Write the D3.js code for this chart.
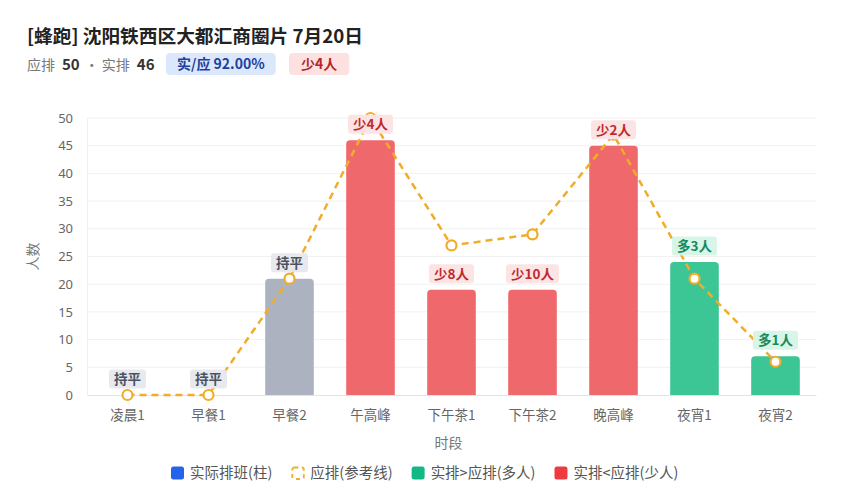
<!DOCTYPE html>
<html>
<head>
<meta charset="utf-8">
<script src="https://cdn.jsdelivr.net/npm/d3@7"></script>
<style>
  body { margin: 0; background: #fff; }
  text { font-family: "Noto Sans CJK SC", "Noto Sans", sans-serif; }
</style>
</head>
<body>
<div id="chart"></div>
<script>
// data
const title = '[蜂跑] 沈阳铁西区大都汇商圈片 7月20日';
const categories = ['凌晨1', '早餐1', '早餐2', '午高峰', '下午茶1', '下午茶2', '晚高峰', '夜宵1', '夜宵2'];
const actual = [0, 0, 21, 46, 19, 19, 45, 24, 7];
const planned = [0, 0, 21, 50, 27, 29, 47, 21, 6];
const yTicks = [0, 5, 10, 15, 20, 25, 30, 35, 40, 45, 50];
const totalPlanned = 50;
const totalActual = 46;
const legendItems = ['实际排班(柱)', '应排(参考线)', '实排>应排(多人)', '实排<应排(少人)'];

const W = 848, H = 500;
const margin = { top: 118, right: 32, bottom: 105, left: 87 };
const width = W - margin.left - margin.right;
const height = H - margin.top - margin.bottom;

const svg = d3.select('#chart').append('svg').attr('width', W).attr('height', H);

////// header //////
svg.append('text').attr('x', 27).attr('y', 43)
  .attr('font-size', 18.7).attr('font-weight', 700).attr('fill', '#222')
  .text(title);

let cx = 27;
function inline(txt, opts) {
  const t = svg.append('text').attr('x', cx).attr('y', 70)
    .attr('font-size', opts.size).attr('font-weight', opts.bold ? 700 : 400)
    .attr('fill', opts.color).text(txt);
  cx += t.node().getComputedTextLength() + (opts.gap || 0);
  return t;
}
inline('应排', { size: 14, color: '#777', gap: 7 });
inline(String(totalPlanned), { size: 15, bold: true, color: '#333', gap: 5 });
inline('· 实排', { size: 14, color: '#777', gap: 7 });
inline(String(totalActual), { size: 15, bold: true, color: '#333', gap: 0 });

function pill(x, y, txt, bg, fg, size, padX, h) {
  const g = svg.append('g');
  const r = g.append('rect').attr('y', y).attr('height', h).attr('rx', 4).attr('fill', bg);
  const t = g.append('text').attr('y', y + h / 2).attr('dy', '0.36em')
    .attr('font-size', size).attr('font-weight', 700).attr('fill', fg).text(txt);
  const tw = t.node().getComputedTextLength();
  r.attr('x', x).attr('width', tw + padX * 2);
  t.attr('x', x + padX);
  return tw + padX * 2;
}
const ratio = (totalActual / totalPlanned * 100).toFixed(2) + '%';
pill(166, 53, '实/应 ' + ratio, '#dbe8fb', '#1e3f9e', 14, 11, 22);
pill(289, 53, '少' + (totalPlanned - totalActual) + '人', '#fde1e1', '#b4232a', 14, 12, 22);

////// chart //////
const group = svg.append('g')
  .attr('transform', 'translate(' + margin.left + ',' + margin.top + ')');

const xScale = d3.scaleBand().domain(categories).range([0, width]).paddingInner(0.4).paddingOuter(0.2);
const xPoint = (c) => xScale(c) + xScale.bandwidth() / 2;
const yScale = d3.scaleLinear().domain([0, 50]).range([height, 0]);

// grid
group.append('g')
  .selectAll('line')
  .data(yTicks.filter((d) => d > 0))
  .enter()
  .append('line')
  .attr('x1', 0).attr('x2', width)
  .attr('y1', (d) => yScale(d)).attr('y2', (d) => yScale(d))
  .attr('stroke', '#f1f1f1');

const yAxis = d3.axisLeft(yScale).tickValues(yTicks).tickSize(0).tickPadding(14);
const yAxisGroup = group.append('g').call(yAxis);
yAxisGroup.select('.domain').attr('stroke', '#f0f0f0');
yAxisGroup.selectAll('text').attr('font-size', 13).attr('fill', '#666')
  .style('font-family', '"Noto Sans", "Noto Sans CJK SC", sans-serif');

const xAxis = d3.axisBottom(xScale).tickSize(0).tickPadding(15);
const xAxisGroup = group.append('g').attr('transform', 'translate(0,' + height + ')').call(xAxis);
xAxisGroup.select('.domain').attr('stroke', '#e3e3e3');
xAxisGroup.selectAll('text').attr('font-size', 13.5).attr('fill', '#666')
  .style('font-family', '"Noto Sans CJK SC", sans-serif');

group.append('text').attr('x', width / 2 - 3).attr('y', height + 53)
  .attr('text-anchor', 'middle').attr('font-size', 14).attr('fill', '#777').text('时段');
group.append('text')
  .attr('transform', 'translate(' + (-49) + ',' + yScale(25) + ') rotate(-90)')
  .attr('text-anchor', 'middle').attr('font-size', 14).attr('fill', '#777').text('人数');

// status per slot
const rows = categories.map((c, i) => ({ cat: c, actual: actual[i], planned: planned[i], diff: actual[i] - planned[i] }));
const barColor = (d) => d.diff > 0 ? '#3cc595' : d.diff < 0 ? '#ef686b' : '#acb2c0';

// rounded top bars
function barPath(d) {
  const x0 = xScale(d.cat), w = xScale.bandwidth();
  const y0 = yScale(d.actual), y1 = yScale(0), r = Math.min(4, (y1 - y0) / 2);
  if (y1 - y0 <= 0) return '';
  return 'M' + x0 + ',' + y1 + 'V' + (y0 + r) + 'Q' + x0 + ',' + y0 + ' ' + (x0 + r) + ',' + y0 +
    'H' + (x0 + w - r) + 'Q' + (x0 + w) + ',' + y0 + ' ' + (x0 + w) + ',' + (y0 + r) + 'V' + y1 + 'Z';
}
group.append('g').selectAll('path')
  .data(rows).enter().append('path')
  .attr('d', barPath)
  .attr('fill', barColor);

// planned line
const line = d3.line().x((d) => xPoint(d.cat)).y((d) => yScale(d.planned));
group.append('path').datum(rows)
  .attr('fill', 'none').attr('stroke', '#f0ad2a').attr('stroke-width', 2.5)
  .attr('stroke-dasharray', '7 5').attr('d', line);

group.append('g').selectAll('circle')
  .data(rows).enter().append('circle')
  .attr('cx', (d) => xPoint(d.cat)).attr('cy', (d) => yScale(d.planned))
  .attr('r', 5).attr('fill', '#fff').attr('stroke', '#f0ad2a').attr('stroke-width', 2.2);

// diff labels
const labelStyle = (d) => d.diff > 0 ? { bg: '#d5f6e6', fg: '#17895f', txt: '多' + d.diff + '人' }
  : d.diff < 0 ? { bg: '#fde3e3', fg: '#c0292f', txt: '少' + (-d.diff) + '人' }
  : { bg: '#e6e8ee', fg: '#4a5260', txt: '持平' };
rows.forEach((d) => {
  const s = labelStyle(d);
  const g = group.append('g');
  const cy = yScale(d.actual) - 16;
  const r = g.append('rect').attr('y', cy - 9.5).attr('height', 19).attr('rx', 3).attr('fill', s.bg).attr('opacity', 0.95);
  const t = g.append('text').attr('x', xPoint(d.cat)).attr('y', cy).attr('dy', '0.36em')
    .attr('text-anchor', 'middle').attr('font-size', 13.5).attr('font-weight', 700)
    .attr('fill', s.fg).text(s.txt);
  const tw = t.node().getComputedTextLength();
  r.attr('x', xPoint(d.cat) - tw / 2 - 5).attr('width', tw + 10);
});

////// legend //////
const legendColors = ['#2563eb', null, '#12b886', '#ee3b3f'];
const legend = svg.append('g').attr('transform', 'translate(0,473)');
let lx = 171;
legendItems.forEach((name, i) => {
  if (legendColors[i]) {
    legend.append('rect').attr('x', lx).attr('y', -6.5).attr('width', 13).attr('height', 13)
      .attr('rx', 2.5).attr('fill', legendColors[i]);
  } else {
    legend.append('rect').attr('x', lx + 1).attr('y', -5.5).attr('width', 11.5).attr('height', 11.5)
      .attr('rx', 2).attr('fill', 'none').attr('stroke', '#f0ad2a').attr('stroke-width', 1.8)
      .attr('stroke-dasharray', '4 3.5');
  }
  const t = legend.append('text').attr('x', lx + 19).attr('dy', '0.36em')
    .attr('font-size', 14.5).attr('fill', '#555').text(name);
  lx += 19 + t.node().getComputedTextLength() + 19;
});
</script>
</body>
</html>
